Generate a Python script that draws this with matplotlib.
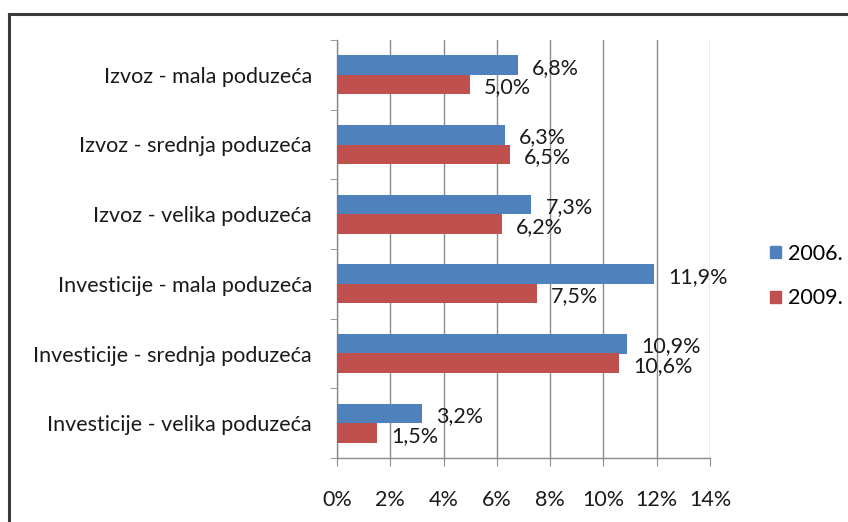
import matplotlib
matplotlib.use("Agg")
import matplotlib.pyplot as plt
import numpy as np
from matplotlib.lines import Line2D
from matplotlib.patches import Patch

plt.rcParams['font.family'] = ['Lato', 'DejaVu Sans']

categories = ["Izvoz - mala poduzeća", "Izvoz - srednja poduzeća", "Izvoz - velika poduzeća",
              "Investicije - mala poduzeća", "Investicije - srednja poduzeća",
              "Investicije - velika poduzeća"]
series_names = ["2006.", "2009."]
v2006 = [6.8, 6.3, 7.3, 11.9, 10.9, 3.2]
v2009 = [5.0, 6.5, 6.2, 7.5, 10.6, 1.5]
xticks = [0, 2, 4, 6, 8, 10, 12, 14]

blue = "#4F81BD"
red = "#C0504D"
grid_c = "#8C8C8C"
txt_c = "#1a1a1a"
fs = 15.5

fig = plt.figure(figsize=(8.48, 5.22), dpi=100)
ax = fig.add_axes([337/848, 1-458/522, (710-337)/848, (458-40)/522])

n = len(categories)
y = np.arange(n)
h = 0.28
ax.barh(y - h/2, v2006, height=h, color=blue, zorder=3, label=series_names[0])
ax.barh(y + h/2, v2009, height=h, color=red, zorder=3, label=series_names[1])

def fmt(v):
    return f"{v:.1f}%".replace(".", ",")

for yi, v in zip(y, v2006):
    ax.annotate(fmt(v), (v, yi - h/2), xytext=(10, -2), textcoords="offset points",
                va="center", ha="left", fontsize=fs, color=txt_c, zorder=4)
for yi, v in zip(y, v2009):
    ax.annotate(fmt(v), (v, yi + h/2), xytext=(10, -2), textcoords="offset points",
                va="center", ha="left", fontsize=fs, color=txt_c, zorder=4)

ax.set_xlim(0, 14)
ax.set_ylim(n - 0.5, -0.5)
ax.set_xticks(xticks)
ax.set_xticklabels([f"{t}%" for t in xticks], fontsize=fs, color=txt_c)
ax.xaxis.grid(True, color=grid_c, linewidth=1, zorder=0)
ax.set_yticks(y)
ax.set_yticklabels(categories, fontsize=fs, color=txt_c)
ax.set_yticks(np.arange(-0.5, n, 1), minor=True)
ax.tick_params(axis='y', which='major', length=0, pad=18)
ax.tick_params(axis='y', which='minor', length=5, color=grid_c, direction='out')
ax.tick_params(axis='x', length=6, color=grid_c, direction='out', pad=17)
for s in ["top", "right"]:
    ax.spines[s].set_visible(False)
for s in ["left", "bottom"]:
    ax.spines[s].set_color(grid_c)
    ax.spines[s].set_linewidth(1)

handles = [Patch(color=blue), Patch(color=red)]
fig.legend(handles, series_names, loc="center left", bbox_to_anchor=(770/848, 1-276/522),
           frameon=False, fontsize=fs, handlelength=0.5, handleheight=0.5,
           handletextpad=0.35, labelspacing=1.15, borderaxespad=0, borderpad=0)

# outer frame (top and left visible)
fig.add_artist(Line2D([9/848, 1], [1-14/522, 1-14/522], transform=fig.transFigure,
                      color="#3a3a3a", linewidth=2.2))
fig.add_artist(Line2D([9/848, 9/848], [0, 1-14/522], transform=fig.transFigure,
                      color="#3a3a3a", linewidth=2.2))

fig.savefig("out.png", dpi=100)
